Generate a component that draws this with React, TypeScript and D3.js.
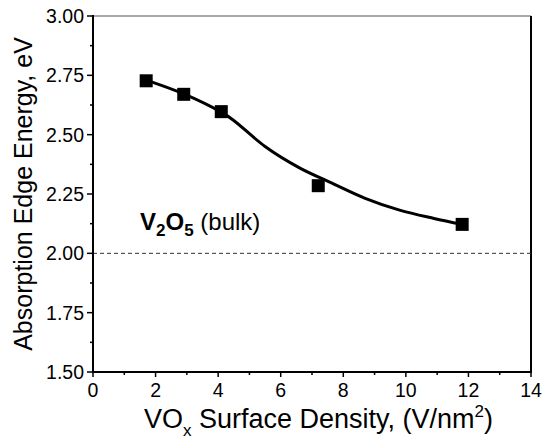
import React from 'react';
import * as d3 from 'd3';

// measured points
const densities = [1.7, 2.9, 4.1, 7.2, 11.8];
const edgeEnergies = [2.727, 2.67, 2.597, 2.285, 2.122];

// smooth fit curve
const fitX = [1.7, 2.9, 4.1, 4.5, 5.5, 6.6, 7.7, 8.7, 9.8, 10.9, 11.8];
const fitY = [2.73, 2.672, 2.595, 2.56, 2.45, 2.36, 2.292, 2.232, 2.182, 2.147, 2.122];

const xTicks = [0, 2, 4, 6, 8, 10, 12, 14];
const yTicks = [1.5, 1.75, 2.0, 2.25, 2.5, 2.75, 3.0];
const bulkEnergy = 2.0;

const W = 542;
const H = 439;
const m = { left: 93, right: 11, top: 16, bottom: 67 };
const FONT = '"Liberation Sans", Arial, sans-serif';

export default function App() {
  const x = d3.scaleLinear().domain([0, 14]).range([m.left, W - m.right]);
  const y = d3.scaleLinear().domain([1.5, 3.0]).range([H - m.bottom, m.top]);

  const line = d3.line<number>()
    .x((_, i) => x(fitX[i]))
    .y(d => y(d))
    .curve(d3.curveCatmullRom.alpha(0.5));

  const xMinor = d3.range(1, 14, 2);
  const yMinor = d3.range(1.625, 3.0, 0.25);
  const x0 = x(0), x1 = x(14), y0 = y(1.5), y1 = y(3.0);

  return (
    <div style={{ position: 'absolute', left: 0, top: 0 }}>
      <svg width={W} height={H} style={{ display: 'block', background: '#fff' }} fontFamily={FONT}>
        {/* frame: thin top, heavier right */}
        <line x1={x0} x2={x1} y1={y1} y2={y1} stroke="#555" strokeWidth={1} />
        <line x1={x1} x2={x1} y1={y1} y2={y0} stroke="#000" strokeWidth={2} />

        {/* bulk reference */}
        <line x1={x0} x2={x1} y1={y(bulkEnergy)} y2={y(bulkEnergy)}
          stroke="#333" strokeWidth={1} strokeDasharray="4,3" />
        <text x={140} y={y(bulkEnergy) - 23} fontSize={24} fill="#000">
          <tspan fontWeight="bold">V</tspan>
          <tspan fontWeight="bold" fontSize={17} dy={6}>2</tspan>
          <tspan fontWeight="bold" dy={-6}>O</tspan>
          <tspan fontWeight="bold" fontSize={17} dy={6}>5</tspan>
          <tspan dy={-6}> (bulk)</tspan>
        </text>

        {/* fit curve */}
        <path d={line(fitY) || ''} fill="none" stroke="#000" strokeWidth={3} />

        {/* data markers */}
        {densities.map((d, i) => (
          <rect key={i} x={x(d) - 6.5} y={y(edgeEnergies[i]) - 6.5} width={13} height={13} fill="#000" />
        ))}

        {/* y axis */}
        <line x1={x0} x2={x0} y1={y1 - 1} y2={y0 + 1} stroke="#000" strokeWidth={2} />
        {yTicks.map(t => (
          <g key={t}>
            <line x1={x0 - 6} x2={x0} y1={y(t)} y2={y(t)} stroke="#000" strokeWidth={1.5} />
            <text x={x0 - 9} y={y(t)} dy="0.36em" textAnchor="end" fontSize={19.5}>{d3.format('.2f')(t)}</text>
          </g>
        ))}
        {yMinor.map(t => (
          <line key={t} x1={x0 - 3} x2={x0} y1={y(t)} y2={y(t)} stroke="#000" strokeWidth={1.5} />
        ))}

        {/* x axis */}
        <line x1={x0 - 1} x2={x1 + 1} y1={y0} y2={y0} stroke="#000" strokeWidth={2} />
        {xTicks.map(t => (
          <g key={t}>
            <line x1={x(t)} x2={x(t)} y1={y0} y2={y0 + 5} stroke="#000" strokeWidth={1.5} />
            <text x={x(t)} y={y0 + 25} textAnchor="middle" fontSize={19.5}>{t}</text>
          </g>
        ))}
        {xMinor.map(t => (
          <line key={t} x1={x(t)} x2={x(t)} y1={y0} y2={y0 + 3} stroke="#000" strokeWidth={1.5} />
        ))}

        {/* axis titles */}
        <text x={144} y={H - 11} fontSize={27}>
          VO<tspan fontSize={17} dy={8}>x</tspan>
          <tspan dy={-8}> Surface Density, (V/nm</tspan>
          <tspan fontSize={17} dy={-11}>2</tspan>
          <tspan dy={11}>)</tspan>
        </text>
        <text transform={`translate(32,${(y0 + y1) / 2}) rotate(-90)`} textAnchor="middle" fontSize={25}>
          Absorption Edge Energy, eV
        </text>
      </svg>
    </div>
  );
}
